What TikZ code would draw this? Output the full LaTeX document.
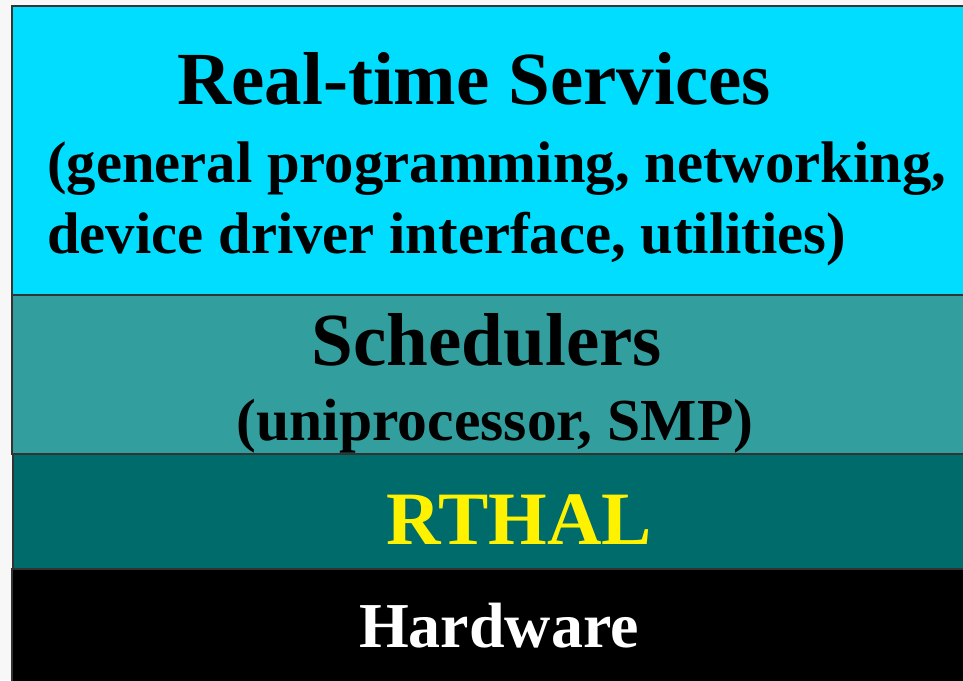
\documentclass[tikz,border=0pt]{standalone}
\usepackage{fontspec}
\setmainfont{Liberation Serif}
\definecolor{rtcyan}{RGB}{0,221,255}
\definecolor{schedteal}{RGB}{51,158,158}
\definecolor{haldark}{RGB}{0,107,107}
\definecolor{pagebg}{RGB}{247,247,247}
\tikzset{
  layer/.style={draw=black!80, line width=1.2pt},
  lbl/.style={inner sep=0pt, anchor=base, font=\bfseries},
}
\begin{document}
\begin{tikzpicture}[x=1pt, y=-1pt]
  % page
  \fill[pagebg] (0,0) rectangle (963,680);
  \useasboundingbox (0,0) rectangle (963,680);
  % layers, top to bottom
  \draw[layer, fill=rtcyan] (12,6) rectangle (966,295);
  \draw[layer, fill=schedteal] (12,295) rectangle (966,454);
  \draw[layer, fill=haldark] (13,454) rectangle (966,569);
  \draw[layer, fill=black] (12,569) rectangle (966,684);
  % labels
  \node[lbl, font=\bfseries\fontsize{75}{75}\selectfont] (rts) at (474,104) {Real-time Services};
  \node[lbl, anchor=base west, font=\bfseries\fontsize{58.7}{58.7}\selectfont] (rts2) at (47,182) {(general programming, networking,};
  \node[lbl, anchor=base west, font=\bfseries\fontsize{58.7}{58.7}\selectfont] (rts3) at (47,253) {device driver interface, utilities)};
  \node[lbl, font=\bfseries\fontsize{75}{75}\selectfont] (sch) at (487,365) {Schedulers};
  \node[lbl, font=\bfseries\fontsize{59.6}{59.6}\selectfont] (sch2) at (495,440) {(uniprocessor, SMP)};
  \node[lbl, text=yellow, font=\bfseries\fontsize{75.4}{75.4}\selectfont] (hal) at (519,544) {RTHAL};
  \node[lbl, text=white, font=\bfseries\fontsize{64}{64}\selectfont] (hw) at (499,647) {Hardware};
\end{tikzpicture}
\end{document}
